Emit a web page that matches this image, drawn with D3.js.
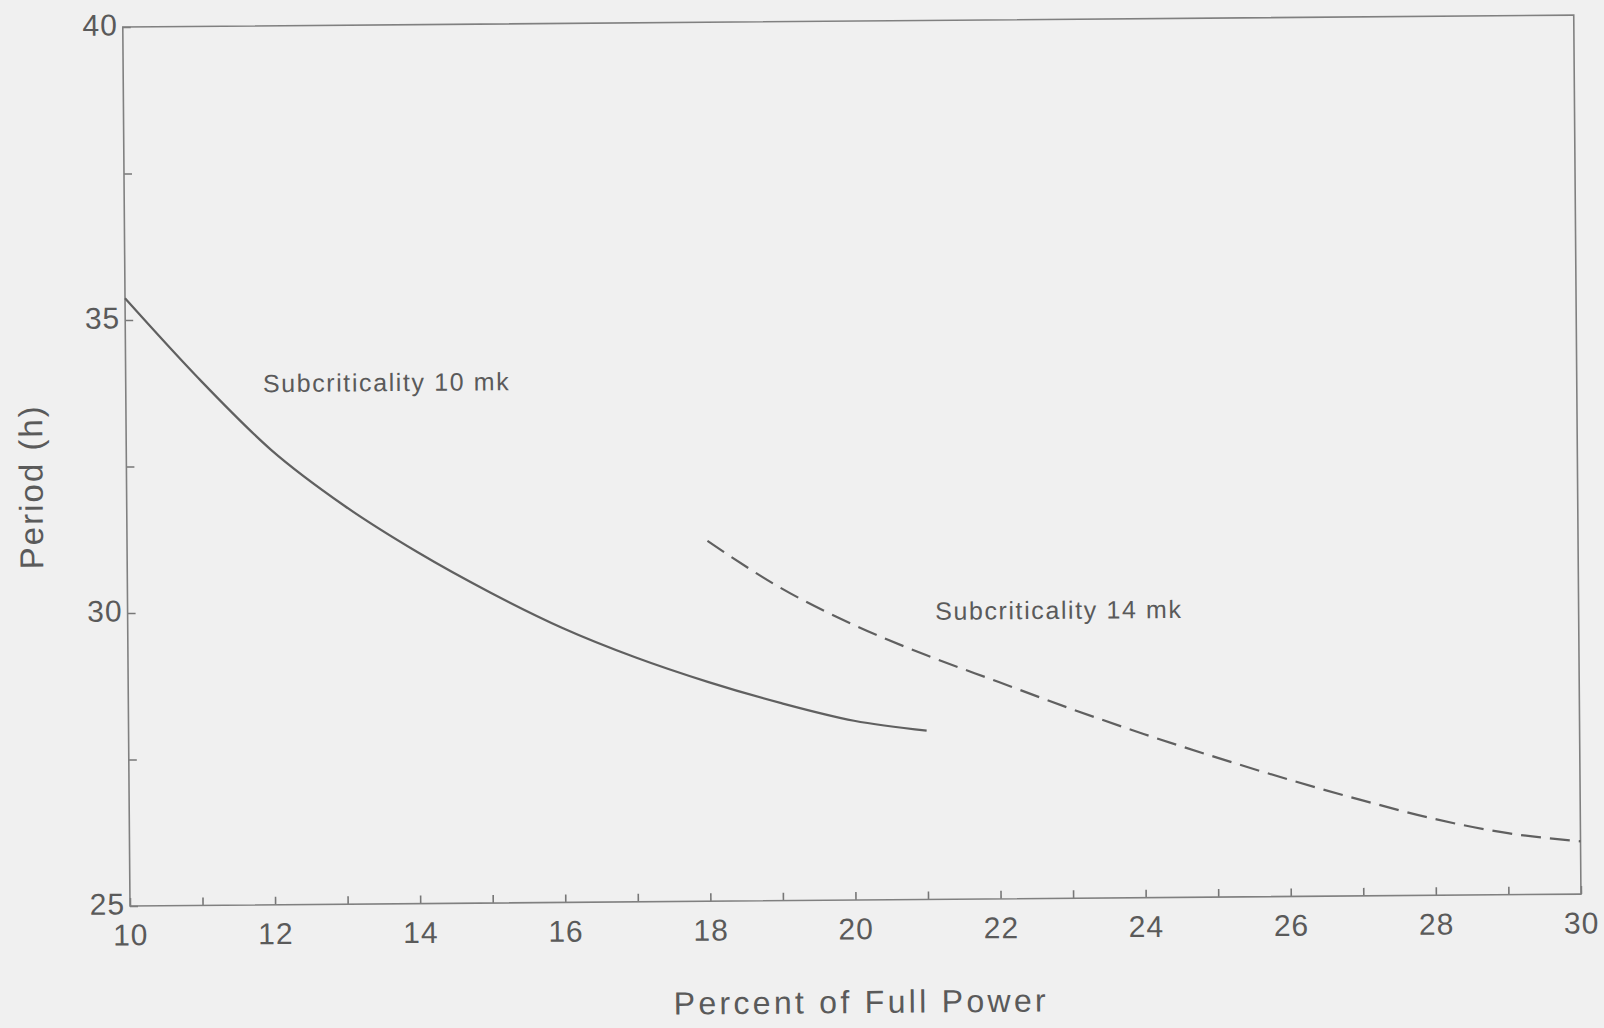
<!DOCTYPE html>
<html>
<head>
<meta charset="utf-8">
<script src="https://cdn.jsdelivr.net/npm/d3@7"></script>
<style>
  html, body { margin: 0; padding: 0; background: #f0f0f0; }
  svg { display: block; }
  text { font-family: "Liberation Sans", Arial, sans-serif; fill: #5a5a5a; }
</style>
</head>
<body>
<svg width="1604" height="1028"></svg>
<script>
// ////////////////////////////////////////////////////////////// period.js //

// data
const power10 = [10, 11, 12, 13, 14, 15, 16, 17, 18, 19, 20, 21];
const period10 = [35.37, 34.0, 32.76, 31.8, 31.0, 30.3, 29.68, 29.17, 28.74,
  28.37, 28.06, 27.88];

const power14 = [18, 19, 20, 21, 22, 23, 24, 25, 26, 27, 28, 29, 30];
const period14 = [31.15, 30.34, 29.7, 29.17, 28.7, 28.23, 27.79, 27.38,
  26.99, 26.63, 26.3, 26.05, 25.9];

const xTicks = d3.range(10, 31, 1);
const yTicks = [25, 27.5, 30, 32.5, 35, 37.5, 40];

const notes = [
  {text: 'Subcriticality 10 mk', x: 11.89, y: 33.75},
  {text: 'Subcriticality 14 mk', x: 21.13, y: 29.77},
];

// 0. setup groups
// ----------------------------------
const W = 1451;
const H = 879;
const ink = '#5a5a5a';

const svg = d3.select('svg');
// the scan sits a little crooked, so the whole plot is tilted a bit
const plot = svg.append('g')
    .attr('transform', `translate(130,906) rotate(-0.47) translate(0,${-H})`);

const x = d3.scaleLinear().domain([10, 30]).range([0, W]);
const y = d3.scaleLinear().domain([25, 40]).range([H, 0]);

// 1. axes
// ----------------------------------
const xAxis = plot.append('g')
    .attr('transform', `translate(0,${H})`)
    .call(d3.axisBottom(x)
        .tickValues(xTicks)
        .tickSize(-8)
        .tickPadding(18)
        .tickFormat((d) => (d % 2 === 0 ? d : '')));

const yAxis = plot.append('g')
    .call(d3.axisLeft(y)
        .tickValues(yTicks)
        .tickSize(-8)
        .tickPadding(5)
        .tickFormat((d) => (d % 5 === 0 ? d : '')));

[xAxis, yAxis].forEach((g) => {
  g.select('.domain').remove();
  g.selectAll('line').attr('stroke', '#777').attr('stroke-width', 1.6);
  g.selectAll('text')
      .style('font-size', '30px')
      .style('letter-spacing', '1px')
      .attr('fill', ink);
});
yAxis.selectAll('text').attr('dy', '0.26em');

plot.append('rect')
    .attr('width', W)
    .attr('height', H)
    .attr('fill', 'none')
    .attr('stroke', '#808080')
    .attr('stroke-width', 1.6);

// 2. curves
// ----------------------------------
const line = d3.line()
    .x((d) => x(d[0]))
    .y((d) => y(d[1]))
    .curve(d3.curveMonotoneX);

plot.append('path')
    .datum(d3.zip(power10, period10))
    .attr('d', line)
    .attr('fill', 'none')
    .attr('stroke', '#606060')
    .attr('stroke-width', 2.2);

plot.append('path')
    .datum(d3.zip(power14, period14))
    .attr('d', line)
    .attr('fill', 'none')
    .attr('stroke', '#606060')
    .attr('stroke-width', 2.2)
    .attr('stroke-dasharray', '20,9');

// 3. labels
// ----------------------------------
plot.selectAll('.note')
    .data(notes)
    .enter()
    .append('text')
    .classed('note', true)
    .attr('x', (d) => x(d.x))
    .attr('y', (d) => y(d.y))
    .style('font-size', '25px')
    .style('letter-spacing', '1.6px')
    .text((d) => d.text);

plot.append('text')
    .attr('x', W / 2 + 5)
    .attr('y', H + 113)
    .attr('text-anchor', 'middle')
    .style('font-size', '32px')
    .style('letter-spacing', '3.3px')
    .text('Percent of Full Power');

plot.append('text')
    .attr('transform', `translate(-84,${H - 420}) rotate(-90)`)
    .attr('text-anchor', 'middle')
    .style('font-size', '33px')
    .style('letter-spacing', '2px')
    .text('Period (h)');
</script>
</body>
</html>
